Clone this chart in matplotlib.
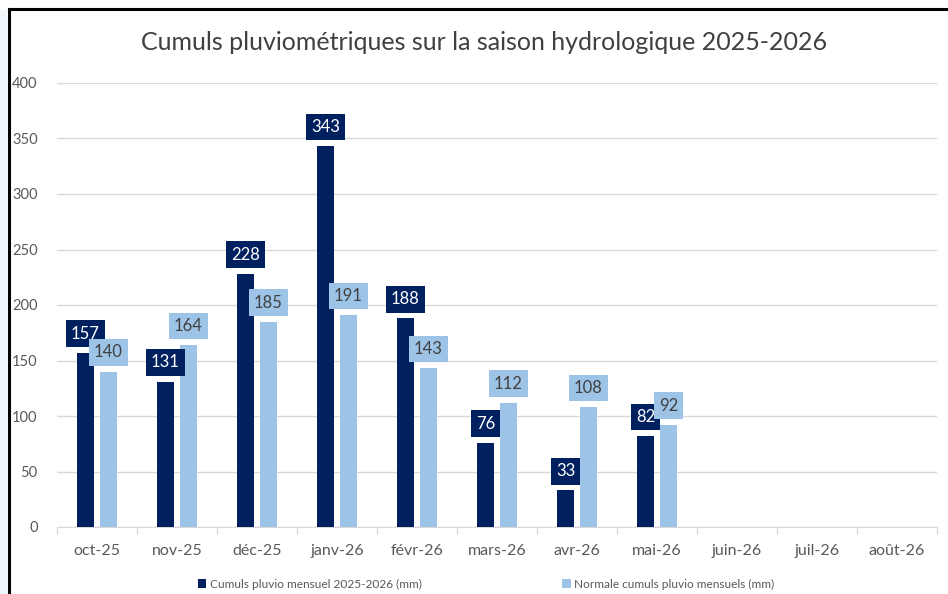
import numpy as np
import matplotlib
matplotlib.use('Agg')
import matplotlib.pyplot as plt
from matplotlib.patches import Rectangle
from matplotlib.lines import Line2D

plt.rcParams['font.family'] = ['Lato', 'DejaVu Sans']

months = ['oct-25', 'nov-25', 'déc-25', 'janv-26', 'févr-26', 'mars-26',
          'avr-26', 'mai-26', 'juin-26', 'juil-26', 'août-26']
cumuls = [157, 131, 228, 343, 188, 76, 33, 82]
normales = [140, 164, 185, 191, 143, 112, 108, 92]

DARK = '#002060'
LIGHT = '#9dc3e6'
GRID = '#d9d9d9'
TXT = '#595959'

fig = plt.figure(figsize=(9.48, 5.94), dpi=100)
ax = fig.add_axes([57 / 948, 67 / 594, 880 / 948, 444 / 594])

x = np.arange(len(months))
w = 0.2125
off = 0.144
xc = x[:len(cumuls)]
ax.bar(xc - off, cumuls, w, color=DARK, label='Cumuls pluvio mensuel 2025-2026 (mm)', zorder=3)
ax.bar(xc + off, normales, w, color=LIGHT, label='Normale cumuls pluvio mensuels (mm)', zorder=3)

# data labels in filled boxes, Excel style
for xi, v in zip(xc - off, cumuls):
    ax.annotate(str(v), (xi, v), xytext=(0, 8), textcoords='offset points',
                ha='center', va='bottom', fontsize=12, color='white', zorder=5,
                bbox=dict(boxstyle='square,pad=0.32', fc=DARK, ec='none'))
for xi, v in zip(xc + off, normales):
    ax.annotate(str(v), (xi, v), xytext=(0, 8), textcoords='offset points',
                ha='center', va='bottom', fontsize=12, color='#404040', zorder=5,
                bbox=dict(boxstyle='square,pad=0.32', fc=LIGHT, ec='none'))

ax.set_xlim(-0.5, len(months) - 0.5)
ax.set_ylim(0, 400)
ax.set_yticks(range(0, 401, 50))
ax.set_xticks(x)
ax.set_xticklabels(months)
ax.set_xticks(np.arange(-0.5, len(months)), minor=True)
ax.tick_params(axis='x', which='major', length=0, pad=12, labelsize=11.5, labelcolor=TXT)
ax.tick_params(axis='x', which='minor', length=5, color=GRID, width=1)
ax.tick_params(axis='y', length=0, pad=14, labelsize=10.5, labelcolor=TXT)
ax.grid(axis='y', color=GRID, linewidth=1, zorder=0)
for s in ['top', 'right', 'left']:
    ax.spines[s].set_visible(False)
ax.spines['bottom'].set_color(GRID)

fig.text(484 / 948, 1 - 42 / 594, 'Cumuls pluviométriques sur la saison hydrologique 2025-2026',
         ha='center', va='center', fontsize=18, color='#404040')

fig.legend(loc='center', bbox_to_anchor=(486 / 948, 1 - 584 / 594), ncol=2, frameon=False,
           fontsize=8.6, labelcolor=TXT, handlelength=0.7, handleheight=0.7,
           handletextpad=0.3, columnspacing=11.8)

# screenshot frame
fig.add_artist(Rectangle((0, 0), 7 / 948, 1 - 10 / 594, transform=fig.transFigure,
                         fc='#eef5fb', ec='none'))
fig.add_artist(Line2D([8.5 / 948, 1], [1 - 8.5 / 594] * 2, color='black', lw=2.2,
                      transform=fig.transFigure))
fig.add_artist(Line2D([8.5 / 948] * 2, [0, 1 - 8.5 / 594], color='black', lw=2.2,
                      transform=fig.transFigure))

fig.savefig('out.png', dpi=100)
